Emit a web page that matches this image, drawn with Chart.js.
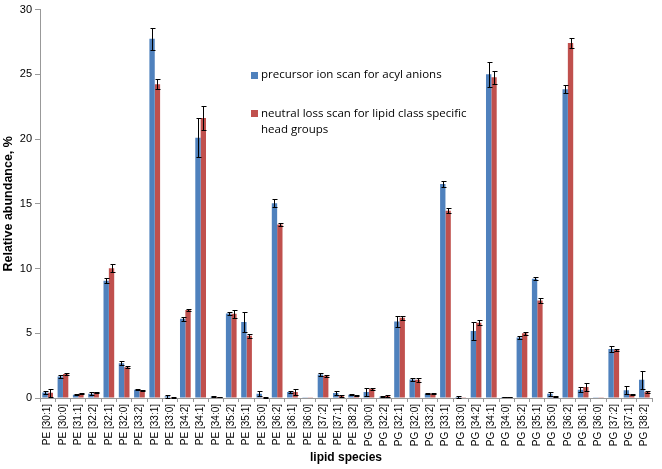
<!DOCTYPE html>
<html>
<head>
<meta charset="utf-8">
<script src="https://cdn.jsdelivr.net/npm/chart.js@4.4.1/dist/chart.umd.min.js"></script>
<style>
  html, body { margin: 0; padding: 0; background: #fff; }
  #wrap { width: 662px; height: 469px; }
</style>
</head>
<body>
<div id="wrap"><canvas id="myChart" width="662" height="469"></canvas></div>
<script>
  const labels = [
    'PE [30:1]', 'PE [30:0]', 'PE [31:1]', 'PE [32:2]', 'PE [32:1]', 'PE [32:0]', 'PE [33:2]',
    'PE [33:1]', 'PE [33:0]', 'PE [34:2]', 'PE [34:1]', 'PE [34:0]', 'PE [35:2]', 'PE [35:1]',
    'PE [35:0]', 'PE [36:2]', 'PE [36:1]', 'PE [36:0]', 'PE [37:2]', 'PE [37:1]', 'PE [38:2]',
    'PG [30:0]', 'PG [32:2]', 'PG [32:1]', 'PG [32:0]', 'PG [33:2]', 'PG [33:1]', 'PG [33:0]',
    'PG [34:2]', 'PG [34:1]', 'PG [34:0]', 'PG [35:2]', 'PG [35:1]', 'PG [35:0]', 'PG [36:2]',
    'PG [36:1]', 'PG [36:0]', 'PG [37:2]', 'PG [37:1]', 'PG [38:2]'
  ];

  // precursor ion scan for acyl anions
  const precursor = [
    0.43, 1.66, 0.25, 0.33, 9.06, 2.68, 0.64,
    27.75, 0.13, 6.12, 20.1, 0.1, 6.53, 5.87,
    0.33, 15.05, 0.46, 0.05, 1.81, 0.38, 0.25,
    0.46, 0.1, 5.9, 1.43, 0.33, 16.53, 0.08,
    5.18, 25.0, 0.08, 4.67, 9.21, 0.33, 23.85,
    0.64, 0.05, 3.78, 0.59, 1.4
  ];
  const precursorErr = [
    0.1, 0.1, 0.03, 0.1, 0.2, 0.15, 0.05,
    0.85, 0.1, 0.15, 1.5, 0.02, 0.1, 0.8,
    0.2, 0.3, 0.1, 0, 0.1, 0.15, 0.05,
    0.3, 0.02, 0.45, 0.1, 0.05, 0.2, 0.05,
    0.7, 0.95, 0.02, 0.1, 0.1, 0.15, 0.3,
    0.2, 0, 0.2, 0.3, 0.7
  ];

  // neutral loss scan for lipid class specific head groups
  const neutralLoss = [
    0.4, 1.86, 0.33, 0.43, 10.03, 2.37, 0.59,
    24.23, 0.05, 6.79, 21.63, 0.08, 6.5, 4.8,
    0.05, 13.4, 0.46, 0.05, 1.71, 0.15, 0.18,
    0.69, 0.15, 6.2, 1.4, 0.33, 14.46, 0.02,
    5.82, 24.77, 0.08, 5.0, 7.53, 0.1, 27.42,
    0.84, 0.05, 3.72, 0.28, 0.46
  ];
  const neutralLossErr = [
    0.3, 0.05, 0.03, 0.05, 0.3, 0.08, 0.05,
    0.4, 0.02, 0.1, 0.95, 0.02, 0.3, 0.15,
    0.02, 0.1, 0.2, 0, 0.05, 0.05, 0.05,
    0.1, 0.05, 0.15, 0.15, 0.05, 0.2, 0,
    0.2, 0.5, 0.02, 0.1, 0.2, 0.05, 0.4,
    0.3, 0, 0.1, 0.05, 0.05
  ];

  const yTicks = [0, 5, 10, 15, 20, 25, 30];

  const errors = [precursorErr, neutralLossErr];

  // error bars drawn on top of the bars
  const errorBars = {
    id: 'errorBars',
    afterDatasetsDraw(chart) {
      const ctx = chart.ctx;
      const y = chart.scales.y;
      ctx.save();
      ctx.strokeStyle = '#000';
      ctx.lineWidth = 1;
      chart.data.datasets.forEach((ds, di) => {
        const meta = chart.getDatasetMeta(di);
        meta.data.forEach((bar, i) => {
          const e = errors[di][i];
          if (!e) return;
          const v = ds.data[i];
          const top = Math.round(y.getPixelForValue(v + e)) + 0.5;
          const bot = Math.round(y.getPixelForValue(Math.max(0, v - e))) + 0.5;
          const x = Math.round(bar.x) + 0.5;
          ctx.beginPath();
          ctx.moveTo(x, top); ctx.lineTo(x, bot);
          ctx.moveTo(x - 2, top); ctx.lineTo(x + 3, top);
          ctx.moveTo(x - 2, bot); ctx.lineTo(x + 3, bot);
          ctx.stroke();
        });
      });
      ctx.restore();
    }
  };

  // legend placed inside the plot like the original
  const innerLegend = {
    id: 'innerLegend',
    afterDraw(chart) {
      const ctx = chart.ctx;
      ctx.save();
      ctx.font = '11.5px "Open Sans", "Liberation Sans", sans-serif';
      ctx.textBaseline = 'middle';
      ctx.fillStyle = '#4f81bd';
      ctx.fillRect(251, 72, 7, 7);
      ctx.fillStyle = '#000';
      ctx.fillText(chart.data.datasets[0].label, 261, 75);
      ctx.fillStyle = '#c0504d';
      ctx.fillRect(251, 110, 7, 7);
      ctx.fillStyle = '#000';
      ctx.fillText('neutral loss scan for lipid class specific', 261, 114);
      ctx.fillText('head groups', 261, 130);
      ctx.restore();
    }
  };

  const data = {
    labels: labels,
    datasets: [{
      label: 'precursor ion scan for acyl anions',
      backgroundColor: '#4f81bd',
      data: precursor,
    },
    {
      label: 'neutral loss scan for lipid class specific head groups',
      backgroundColor: '#c0504d',
      data: neutralLoss,
    }]
  };

  const config = {
    type: 'bar',
    data: data,
    options: {
      responsive: false,
      animation: false,
      layout: { padding: { top: 6, right: 10, left: 0, bottom: 4 } },
      datasets: { bar: { categoryPercentage: 0.7, barPercentage: 1 } },
      plugins: { legend: { display: false }, tooltip: { enabled: false } },
      scales: {
        x: {
          grid: { display: true, drawOnChartArea: false, color: '#999', tickLength: 4, offset: true },
          border: { color: '#999' },
          ticks: {
            autoSkip: false, minRotation: 90, maxRotation: 90, padding: 2,
            color: '#000', font: { size: 10, family: '"Liberation Sans", Arial, sans-serif' }
          },
          title: {
            display: true, text: 'lipid species', color: '#000', padding: { top: 4, bottom: 0 },
            font: { size: 12, weight: 'bold', family: '"Liberation Sans", Arial, sans-serif' }
          },
          afterFit(s) { s.height = 67; }
        },
        y: {
          min: 0, max: 30,
          afterBuildTicks(s) { s.ticks = yTicks.map(v => ({ value: v })); },
          grid: { display: true, drawOnChartArea: false, color: '#999', tickLength: 5 },
          border: { color: '#999' },
          ticks: { color: '#000', padding: 3, font: { size: 11, family: '"Liberation Sans", Arial, sans-serif' } },
          title: {
            display: true, text: 'Relative abundance, %', color: '#000', padding: { top: 1, bottom: 2 },
            font: { size: 12.5, weight: 'bold', family: '"Liberation Sans", Arial, sans-serif' }
          },
          afterFit(s) { s.width = 40; }
        }
      }
    },
    plugins: [errorBars, innerLegend]
  };

  const myChart = new Chart(
    document.getElementById('myChart'),
    config
  );
</script>
</body>
</html>
